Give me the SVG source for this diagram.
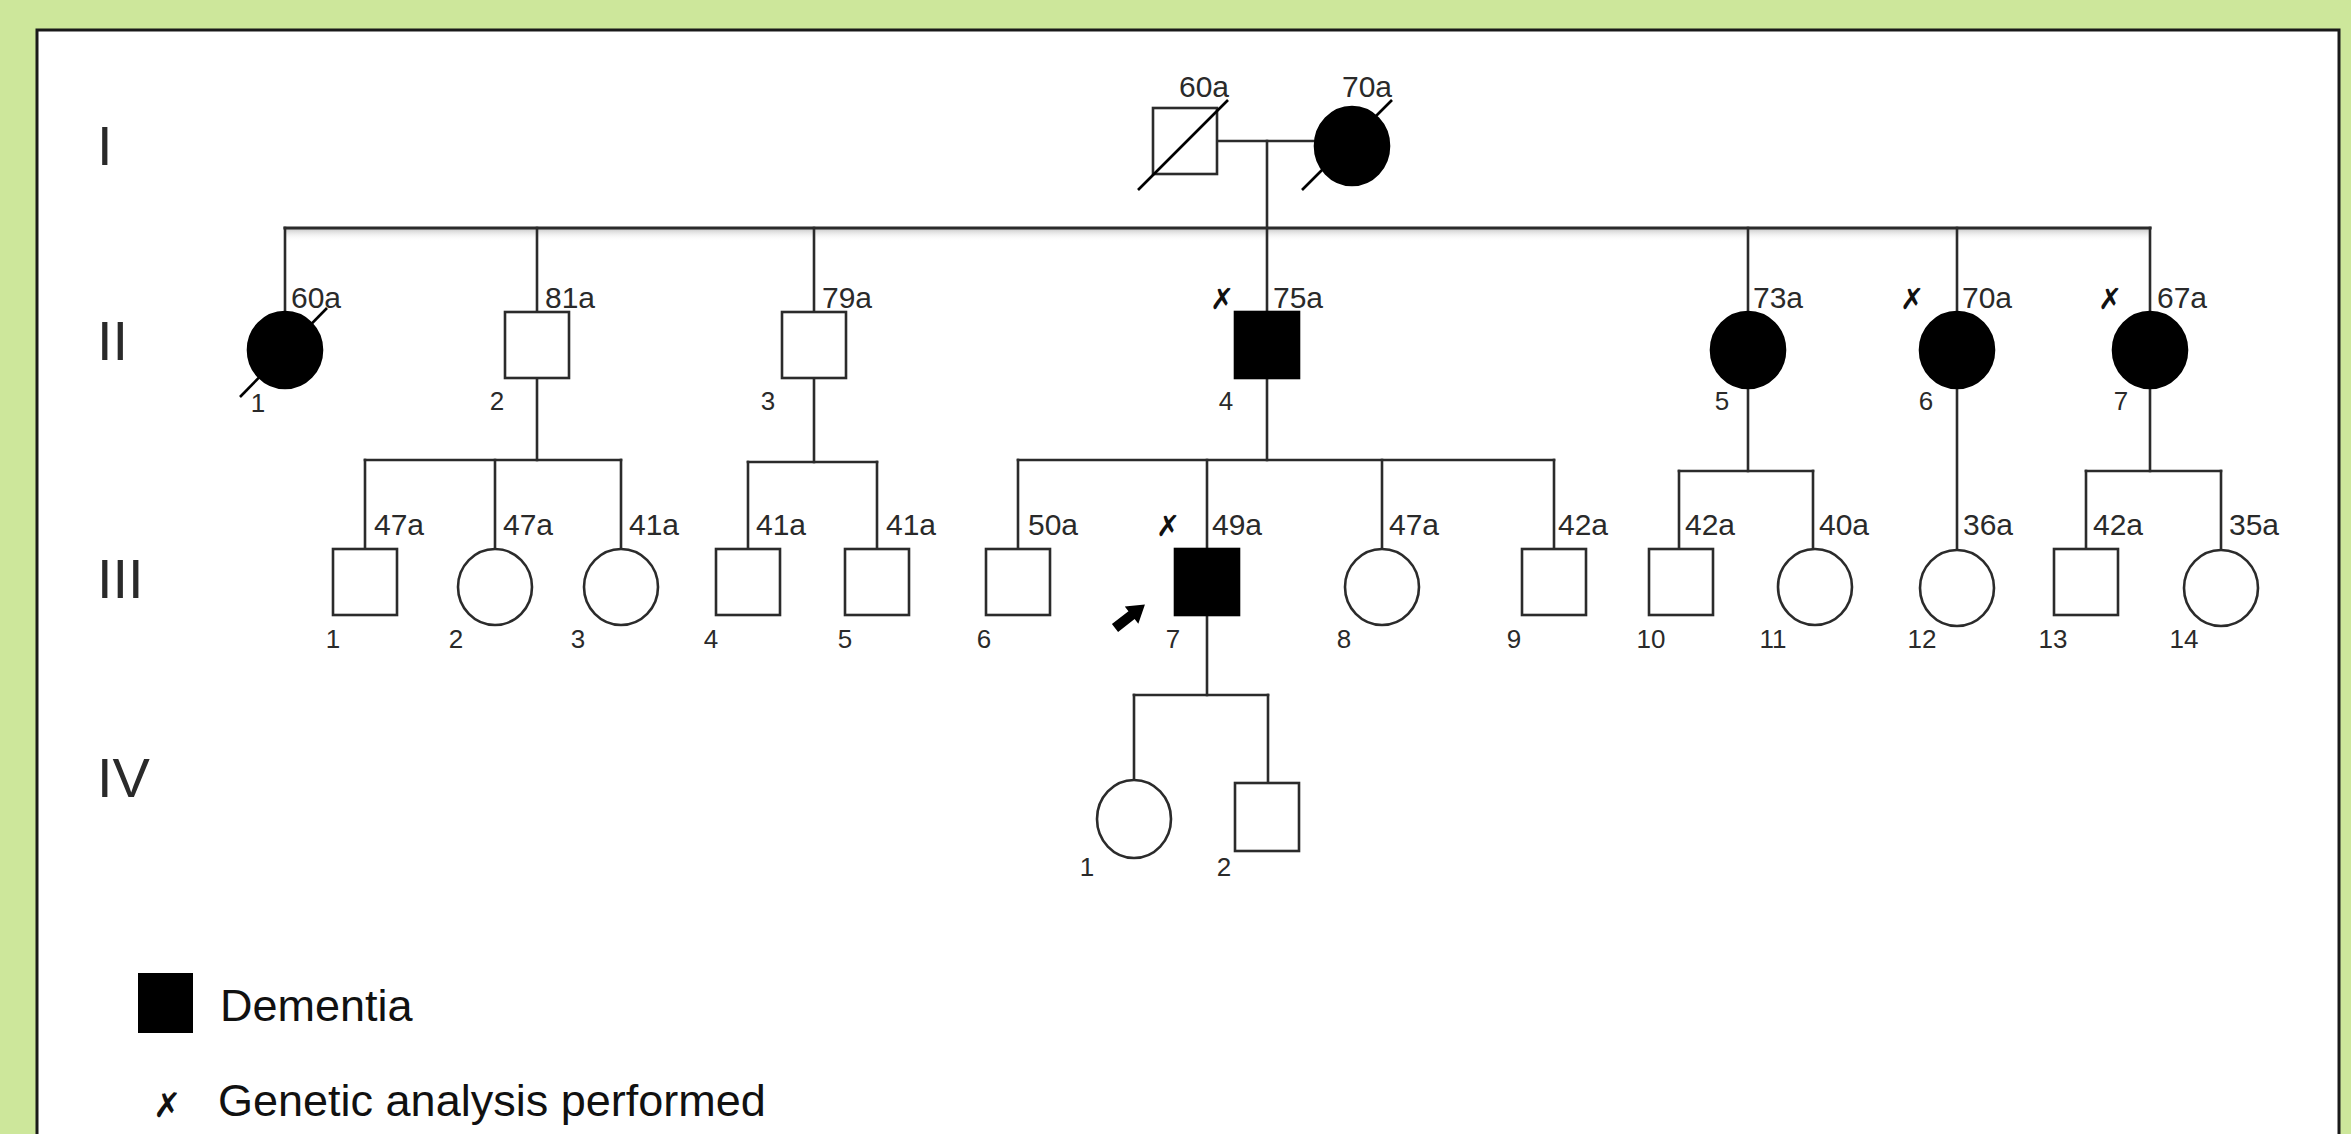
<svg xmlns="http://www.w3.org/2000/svg" width="2351" height="1134" viewBox="0 0 2351 1134">
<defs>
<style>
.ln{stroke:#2b2b2b;stroke-width:2.6;fill:none;stroke-linecap:square}
.nd{fill:#fff;stroke:#2b2b2b;stroke-width:2.6}
.af{fill:#000;stroke:#000;stroke-width:2.6}
.sl{stroke:#000;stroke-width:2.6}
.age{font-family:"Liberation Sans",Arial,sans-serif;font-size:30px;fill:#2a2a2a}
.num{font-family:"Liberation Sans",Arial,sans-serif;font-size:26px;fill:#2a2a2a;text-anchor:middle}
.gen{font-family:"Liberation Sans",Arial,sans-serif;font-size:56px;fill:#2a2a2a}
.gx{font-family:"DejaVu Sans",sans-serif;font-size:29px;fill:#111}
.leg{font-family:"Liberation Sans",Arial,sans-serif;font-size:45px;fill:#111}
</style>
<linearGradient id="shd" x1="0" y1="0" x2="0" y2="1">
<stop offset="0" stop-color="#bdbdbd" stop-opacity="0.8"/>
<stop offset="1" stop-color="#ffffff" stop-opacity="0"/>
</linearGradient>
</defs>
<rect x="0" y="0" width="2351" height="1134" fill="#cde79b"/>
<rect x="37" y="30" width="2302" height="1130" fill="#fff" stroke="#1a1a1a" stroke-width="3"/>

<g id="generation-labels">
<text class="gen" x="97" y="165">I</text>
<text class="gen" x="97" y="360">II</text>
<text class="gen" x="97" y="598">III</text>
<text class="gen" x="97" y="797">IV</text>
</g>

<g id="connectors">
<rect x="285" y="229" width="1866" height="12" fill="url(#shd)"/>
<line class="ln" x1="1217" y1="141" x2="1315" y2="141"/>
<line class="ln" x1="1267" y1="141" x2="1267" y2="312"/>
<line class="ln" x1="285" y1="228" x2="2150" y2="228" style="stroke-width:3.2"/>
<line class="ln" x1="285" y1="228" x2="285" y2="312"/>
<line class="ln" x1="537" y1="228" x2="537" y2="312"/>
<line class="ln" x1="814" y1="228" x2="814" y2="312"/>
<line class="ln" x1="1748" y1="228" x2="1748" y2="312"/>
<line class="ln" x1="1957" y1="228" x2="1957" y2="312"/>
<line class="ln" x1="2150" y1="228" x2="2150" y2="312"/>
<line class="ln" x1="537" y1="378" x2="537" y2="460"/>
<line class="ln" x1="365" y1="460" x2="621" y2="460"/>
<line class="ln" x1="365" y1="460" x2="365" y2="549"/>
<line class="ln" x1="495" y1="460" x2="495" y2="549"/>
<line class="ln" x1="621" y1="460" x2="621" y2="549"/>
<line class="ln" x1="814" y1="378" x2="814" y2="462"/>
<line class="ln" x1="748" y1="462" x2="877" y2="462"/>
<line class="ln" x1="748" y1="462" x2="748" y2="549"/>
<line class="ln" x1="877" y1="462" x2="877" y2="549"/>
<line class="ln" x1="1267" y1="378" x2="1267" y2="460"/>
<line class="ln" x1="1018" y1="460" x2="1554" y2="460"/>
<line class="ln" x1="1018" y1="460" x2="1018" y2="549"/>
<line class="ln" x1="1207" y1="460" x2="1207" y2="549"/>
<line class="ln" x1="1382" y1="460" x2="1382" y2="549"/>
<line class="ln" x1="1554" y1="460" x2="1554" y2="549"/>
<line class="ln" x1="1748" y1="388" x2="1748" y2="471"/>
<line class="ln" x1="1679" y1="471" x2="1813" y2="471"/>
<line class="ln" x1="1679" y1="471" x2="1679" y2="549"/>
<line class="ln" x1="1813" y1="471" x2="1813" y2="549"/>
<line class="ln" x1="1957" y1="388" x2="1957" y2="549"/>
<line class="ln" x1="2150" y1="388" x2="2150" y2="471"/>
<line class="ln" x1="2086" y1="471" x2="2221" y2="471"/>
<line class="ln" x1="2086" y1="471" x2="2086" y2="549"/>
<line class="ln" x1="2221" y1="471" x2="2221" y2="549"/>
<line class="ln" x1="1207" y1="615" x2="1207" y2="695"/>
<line class="ln" x1="1134" y1="695" x2="1268" y2="695"/>
<line class="ln" x1="1134" y1="695" x2="1134" y2="780"/>
<line class="ln" x1="1268" y1="695" x2="1268" y2="783"/>
</g>

<g id="I-1">
<rect class="nd" x="1153" y="108" width="64" height="66"/>
<line class="sl" x1="1138" y1="190" x2="1228" y2="100"/>
<text class="age" x="1179" y="97">60a</text>
</g>
<g id="I-2">
<line class="sl" x1="1302" y1="190" x2="1392" y2="100"/>
<ellipse class="af" cx="1352" cy="146" rx="37" ry="39"/>
<text class="age" x="1342" y="97">70a</text>
</g>

<g id="II-1">
<line class="sl" x1="240" y1="397" x2="327" y2="308"/>
<ellipse class="af" cx="285" cy="350" rx="37" ry="38"/>
<text class="age" x="291" y="308">60a</text>
<text class="num" x="258" y="412">1</text>
</g>
<g id="II-2">
<rect class="nd" x="505" y="312" width="64" height="66"/>
<text class="age" x="545" y="308">81a</text>
<text class="num" x="497" y="410">2</text>
</g>
<g id="II-3">
<rect class="nd" x="782" y="312" width="64" height="66"/>
<text class="age" x="822" y="308">79a</text>
<text class="num" x="768" y="410">3</text>
</g>
<g id="II-4">
<rect class="af" x="1235" y="312" width="64" height="66"/>
<text class="gx" x="1210" y="309">✗</text>
<text class="age" x="1273" y="308">75a</text>
<text class="num" x="1226" y="410">4</text>
</g>
<g id="II-5">
<ellipse class="af" cx="1748" cy="350" rx="37" ry="38"/>
<text class="age" x="1753" y="308">73a</text>
<text class="num" x="1722" y="410">5</text>
</g>
<g id="II-6">
<ellipse class="af" cx="1957" cy="350" rx="37" ry="38"/>
<text class="gx" x="1900" y="309">✗</text>
<text class="age" x="1962" y="308">70a</text>
<text class="num" x="1926" y="410">6</text>
</g>
<g id="II-7">
<ellipse class="af" cx="2150" cy="350" rx="37" ry="38"/>
<text class="gx" x="2098" y="309">✗</text>
<text class="age" x="2157" y="308">67a</text>
<text class="num" x="2121" y="410">7</text>
</g>

<g id="III-1">
<rect class="nd" x="333" y="549" width="64" height="66"/>
<text class="age" x="374" y="535">47a</text>
<text class="num" x="333" y="648">1</text>
</g>
<g id="III-2">
<ellipse class="nd" cx="495" cy="587" rx="37" ry="38"/>
<text class="age" x="503" y="535">47a</text>
<text class="num" x="456" y="648">2</text>
</g>
<g id="III-3">
<ellipse class="nd" cx="621" cy="587" rx="37" ry="38"/>
<text class="age" x="629" y="535">41a</text>
<text class="num" x="578" y="648">3</text>
</g>
<g id="III-4">
<rect class="nd" x="716" y="549" width="64" height="66"/>
<text class="age" x="756" y="535">41a</text>
<text class="num" x="711" y="648">4</text>
</g>
<g id="III-5">
<rect class="nd" x="845" y="549" width="64" height="66"/>
<text class="age" x="886" y="535">41a</text>
<text class="num" x="845" y="648">5</text>
</g>
<g id="III-6">
<rect class="nd" x="986" y="549" width="64" height="66"/>
<text class="age" x="1028" y="535">50a</text>
<text class="num" x="984" y="648">6</text>
</g>
<g id="III-7">
<rect class="af" x="1175" y="549" width="64" height="66"/>
<text class="gx" x="1156" y="536">✗</text>
<text class="age" x="1212" y="535">49a</text>
<text class="num" x="1173" y="648">7</text>
<polygon fill="#000" points="0,-5 21,-5 21,-11 38,0 21,11 21,5 0,5" transform="translate(1115,628) rotate(-38)"/>
</g>
<g id="III-8">
<ellipse class="nd" cx="1382" cy="587" rx="37" ry="38"/>
<text class="age" x="1389" y="535">47a</text>
<text class="num" x="1344" y="648">8</text>
</g>
<g id="III-9">
<rect class="nd" x="1522" y="549" width="64" height="66"/>
<text class="age" x="1558" y="535">42a</text>
<text class="num" x="1514" y="648">9</text>
</g>
<g id="III-10">
<rect class="nd" x="1649" y="549" width="64" height="66"/>
<text class="age" x="1685" y="535">42a</text>
<text class="num" x="1651" y="648">10</text>
</g>
<g id="III-11">
<ellipse class="nd" cx="1815" cy="587" rx="37" ry="38"/>
<text class="age" x="1819" y="535">40a</text>
<text class="num" x="1773" y="648">11</text>
</g>
<g id="III-12">
<ellipse class="nd" cx="1957" cy="588" rx="37" ry="38"/>
<text class="age" x="1963" y="535">36a</text>
<text class="num" x="1922" y="648">12</text>
</g>
<g id="III-13">
<rect class="nd" x="2054" y="549" width="64" height="66"/>
<text class="age" x="2093" y="535">42a</text>
<text class="num" x="2053" y="648">13</text>
</g>
<g id="III-14">
<ellipse class="nd" cx="2221" cy="588" rx="37" ry="38"/>
<text class="age" x="2229" y="535">35a</text>
<text class="num" x="2184" y="648">14</text>
</g>

<g id="IV-1">
<ellipse class="nd" cx="1134" cy="819" rx="37" ry="39"/>
<text class="num" x="1087" y="876">1</text>
</g>
<g id="IV-2">
<rect class="nd" x="1235" y="783" width="64" height="68"/>
<text class="num" x="1224" y="876">2</text>
</g>

<g id="legend">
<rect x="138" y="973" width="55" height="60" fill="#000"/>
<text class="leg" x="220" y="1021">Dementia</text>
<text class="gx" x="153" y="1117" style="font-size:34px">✗</text>
<text class="leg" x="218" y="1116">Genetic analysis performed</text>
</g>
</svg>
